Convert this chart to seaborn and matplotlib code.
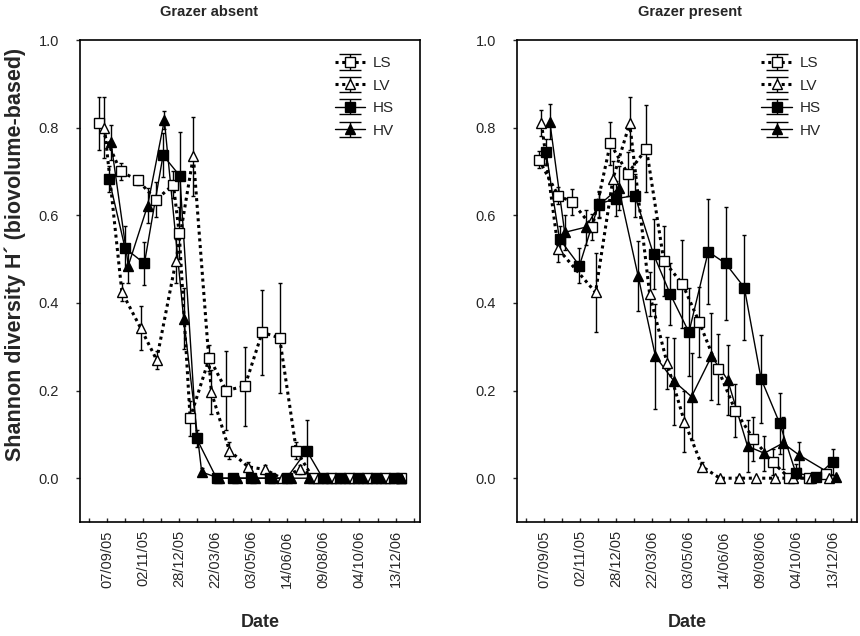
import numpy as np
import pandas as pd
import seaborn as sns
import matplotlib
matplotlib.use("Agg")
import matplotlib.pyplot as plt

# ---------------- data (x = days after 07/09/05) ----------------
tick_days = list(range(-28, 477, 28))
tick_labels = ["07/09/05", "02/11/05", "28/12/05", "22/03/06", "03/05/06",
               "14/06/06", "09/08/06", "04/10/06", "13/12/06"]

# Grazer absent
abs_LS_x = [-12, 21, 48, 76, 103, 112, 129, 159, 185, 214, 241, 268, 294, 320, 348, 376, 404, 432, 457]
abs_LS_y = [0.81, 0.70, 0.68, 0.635, 0.67, 0.56, 0.137, 0.275, 0.20, 0.21, 0.333, 0.32, 0.063, 0, 0, 0, 0, 0, 0]
abs_LS_e = [0.06, 0.02, 0.01, 0.04, 0.03, 0.06, 0.04, 0.03, 0.09, 0.09, 0.097, 0.126, 0.02, 0, 0, 0, 0, 0, 0]

abs_LV_x = [-4, 23, 52, 77, 107, 134, 162, 190, 219, 245, 271, 299, 327, 355, 383, 411, 439, 457]
abs_LV_y = [0.80, 0.425, 0.343, 0.27, 0.496, 0.735, 0.196, 0.063, 0.026, 0.02, 0, 0.02, 0, 0, 0, 0, 0, 0]
abs_LV_e = [0.07, 0.02, 0.05, 0.02, 0.05, 0.09, 0.05, 0.02, 0.01, 0.01, 0, 0.01, 0, 0, 0, 0, 0, 0]

abs_HS_x = [3, 28, 58, 87, 113, 139, 170, 195, 224, 253, 279, 310, 335, 362, 390, 418, 446]
abs_HS_y = [0.683, 0.525, 0.49, 0.737, 0.69, 0.091, 0, 0, 0, 0, 0, 0.063, 0, 0, 0, 0, 0]
abs_HS_e = [0.03, 0.05, 0.05, 0.05, 0.10, 0.02, 0, 0, 0, 0, 0, 0.07, 0, 0, 0, 0, 0]

abs_HV_x = [6, 33, 63, 89, 119, 147, 174, 202, 230, 258, 285, 313, 341, 369, 397, 425, 457]
abs_HV_y = [0.767, 0.485, 0.622, 0.817, 0.364, 0.014, 0, 0, 0, 0, 0, 0, 0, 0, 0, 0, 0]
abs_HV_e = [0.04, 0.04, 0.04, 0.02, 0.07, 0.01, 0, 0, 0, 0, 0, 0, 0, 0, 0, 0, 0]

# Grazer present
pre_LS_x = [-8, 22, 44, 75, 103, 130, 159, 186, 215, 241, 270, 297, 325, 355, 381, 412, 438]
pre_LS_y = [0.727, 0.645, 0.63, 0.573, 0.764, 0.695, 0.752, 0.496, 0.443, 0.356, 0.25, 0.154, 0.09, 0.037, 0, 0, 0.01]
pre_LS_e = [0.02, 0.02, 0.03, 0.03, 0.05, 0.05, 0.10, 0.08, 0.10, 0.08, 0.08, 0.06, 0.05, 0.03, 0, 0, 0.01]

pre_LV_x = [-4, 22, 80, 107, 133, 164, 191, 218, 246, 273, 302, 329, 359, 386, 414, 443]
pre_LV_y = [0.81, 0.523, 0.424, 0.683, 0.81, 0.42, 0.263, 0.129, 0.026, 0, 0, 0, 0, 0, 0, 0]
pre_LV_e = [0.03, 0.03, 0.09, 0.04, 0.06, 0.05, 0.06, 0.07, 0.01, 0, 0, 0, 0, 0, 0, 0]

pre_HS_x = [3, 24, 55, 85, 112, 141, 170, 196, 225, 255, 282, 311, 337, 366, 391, 422, 448]
pre_HS_y = [0.745, 0.546, 0.485, 0.626, 0.638, 0.645, 0.511, 0.42, 0.333, 0.517, 0.49, 0.435, 0.227, 0.125, 0.012, 0.003, 0.037]
pre_HS_e = [0.03, 0.03, 0.04, 0.03, 0.04, 0.05, 0.08, 0.07, 0.10, 0.12, 0.13, 0.12, 0.10, 0.07, 0.02, 0.005, 0.03]

pre_HV_x = [9, 32, 65, 86, 116, 146, 173, 202, 229, 260, 285, 316, 342, 371, 396, 453]
pre_HV_y = [0.813, 0.561, 0.573, 0.624, 0.662, 0.462, 0.278, 0.221, 0.186, 0.278, 0.225, 0.073, 0.057, 0.08, 0.053, 0.003]
pre_HV_e = [0.04, 0.04, 0.04, 0.03, 0.05, 0.08, 0.12, 0.10, 0.10, 0.10, 0.08, 0.06, 0.04, 0.06, 0.03, 0.005]

panels = {
    "Grazer absent": {
        "LS": (abs_LS_x, abs_LS_y, abs_LS_e),
        "LV": (abs_LV_x, abs_LV_y, abs_LV_e),
        "HS": (abs_HS_x, abs_HS_y, abs_HS_e),
        "HV": (abs_HV_x, abs_HV_y, abs_HV_e),
    },
    "Grazer present": {
        "LS": (pre_LS_x, pre_LS_y, pre_LS_e),
        "LV": (pre_LV_x, pre_LV_y, pre_LV_e),
        "HS": (pre_HS_x, pre_HS_y, pre_HS_e),
        "HV": (pre_HV_x, pre_HV_y, pre_HV_e),
    },
}

styles = {
    "LS": dict(marker="s", mfc="white", ls=(0, (1, 1.2)), lw=2.2),
    "LV": dict(marker="^", mfc="white", ls=(0, (1, 1.2)), lw=2.2),
    "HS": dict(marker="s", mfc="black", ls="-", lw=1.0),
    "HV": dict(marker="^", mfc="black", ls="-", lw=1.0),
}

sns.set_style("ticks")
plt.rcParams["font.family"] = ["Liberation Sans", "DejaVu Sans"]

W, H = 860, 636
fig = plt.figure(figsize=(W / 100, H / 100), dpi=100)
ax_rects = [(80, 40, 420, 522), (517, 40, 857, 522)]
title_x = [0.38, 0.51]
date_x = [0.53, 0.5]
legend_anchor = [(0.95, 0.985), (0.92, 0.985)]

for i, (title, series) in enumerate(panels.items()):
    x0, y0, x1, y1 = ax_rects[i]
    ax = fig.add_axes([x0 / W, 1 - y1 / H, (x1 - x0) / W, (y1 - y0) / H])
    handles = []
    for name in ["LS", "LV", "HS", "HV"]:
        xs, ys, es = series[name]
        st = styles[name]
        df = pd.DataFrame({"day": xs, "H": ys})
        sns.lineplot(data=df, x="day", y="H", ax=ax, color="black",
                     linestyle=st["ls"], linewidth=st["lw"], marker=None,
                     estimator=None, sort=False, legend=False, zorder=2)
        ax.errorbar(xs, ys, yerr=es, fmt="none", ecolor="black",
                    elinewidth=1.0, capsize=1.5, capthick=1.0, zorder=3)
        ax.plot(xs, ys, linestyle="none", marker=st["marker"], markersize=7.5,
                markerfacecolor=st["mfc"], markeredgecolor="black",
                markeredgewidth=1.0, zorder=4)
        h = ax.errorbar([np.nan], [np.nan], yerr=[0.1], color="black",
                        linestyle=st["ls"], linewidth=st["lw"],
                        marker=st["marker"], markersize=7.5,
                        markerfacecolor=st["mfc"], markeredgecolor="black",
                        ecolor="black", elinewidth=1.0, capsize=8, capthick=1.0,
                        label=name)
        handles.append(h)

    ax.set_xlim(-42, 486)
    ax.set_ylim(-0.1, 1.0)
    ax.set_yticks([0.0, 0.2, 0.4, 0.6, 0.8, 1.0])
    ax.set_yticklabels(["0.0", "0.2", "0.4", "0.6", "0.8", "1.0"])
    ax.set_xticks(tick_days)
    ax.set_xticklabels([tick_labels[k // 2] if k % 2 == 1 else "" for k in range(len(tick_days))],
                       rotation=90)
    ax.tick_params(axis="x", direction="in", length=3, width=1, labelsize=10.5, pad=6)
    ax.tick_params(axis="y", direction="out", length=3, width=1, labelsize=10.5, pad=12)
    for sp in ax.spines.values():
        sp.set_visible(True)
        sp.set_linewidth(1.2)
        sp.set_color("black")
    ax.set_title(title, fontsize=10.5, fontweight="bold", x=title_x[i], pad=17)
    ax.set_xlabel("Date", fontsize=13, fontweight="bold")
    ax.xaxis.set_label_coords(date_x[i], -0.19)
    if i == 0:
        ax.set_ylabel("Shannon diversity H\u00b4 (biovolume-based)", fontsize=15.5,
                      fontweight="bold")
        ax.yaxis.set_label_coords(-0.158, 0.555)
    else:
        ax.set_ylabel("")
    ax.legend(handles=handles, loc="upper right", bbox_to_anchor=legend_anchor[i],
              frameon=False, fontsize=11, handlelength=2.0, handletextpad=0.5,
              labelspacing=0.55, borderaxespad=0.2)

fig.savefig("out.png", dpi=100)
